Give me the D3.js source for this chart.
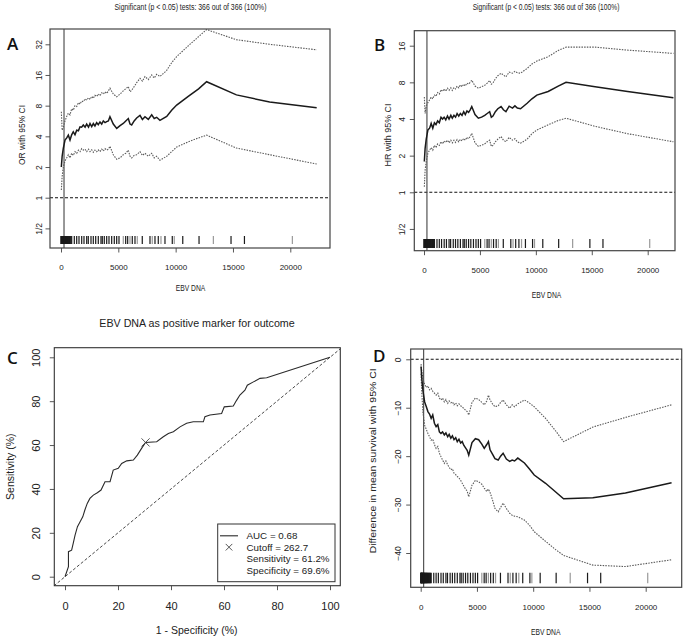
<!DOCTYPE html>
<html><head><meta charset="utf-8">
<script src="https://cdn.jsdelivr.net/npm/d3@7"></script>
<style>body{margin:0;background:#fff}svg{display:block}</style>
</head><body><svg id="c" width="685" height="640"></svg>
<script>
// ---------- DATA ----------
const ebvCutoffs = [30, 100, 200, 350, 500, 640, 785, 930, 1070, 1220,
 1370, 1520, 1660, 1800, 1945, 2100, 2240, 2400, 2530, 2680,
 2820, 2960, 3110, 3250, 3400, 3550, 3690, 3840, 3985, 4130,
 4270, 4560, 4860, 5150, 5430, 5650, 5870, 6020, 6165, 6380,
 6600, 6890, 7100, 7325, 7615, 7910, 8130, 8345, 8630, 9220,
 9650, 10090, 11100, 12000, 12700, 15300, 18200, 22300];

const orEst = [2.00, 2.55, 3.05, 3.68, 3.86, 4.11, 3.68, 4.14, 4.44, 4.14,
 4.59, 4.53, 4.96, 4.92, 5.17, 4.92, 5.28, 4.92, 5.35, 4.99,
 5.35, 5.06, 5.46, 5.20, 5.54, 5.28, 5.66, 5.46, 5.58, 5.66,
 6.23, 5.28, 4.79, 5.10, 5.35, 5.66, 5.98, 5.28, 5.17, 5.66,
 6.06, 6.41, 5.86, 6.23, 5.86, 6.50, 5.98, 6.15, 5.74, 6.28,
 7.21, 8.11, 9.85, 11.71, 13.74, 10.20, 8.69, 7.62];
const orHigh = [6.96, 4.59, 4.92, 5.66, 6.28, 6.77, 6.50, 7.46, 7.21, 8.00,
 7.84, 8.57, 8.28, 8.88, 8.75, 9.32, 9.06, 9.58, 9.19, 9.85,
 9.45, 10.13, 9.85, 10.41, 9.99, 10.70, 10.41, 10.93, 10.56, 11.16,
 11.88, 10.41, 9.78, 10.41, 11.16, 11.71, 12.30, 10.93, 11.31, 12.30,
 13.45, 14.83, 13.93, 15.45, 14.42, 16.00, 14.93, 16.22, 15.45, 17.75,
 21.11, 24.25, 30.91, 38.05, 44.63, 35.51, 32.00, 28.25];
const orLow = [1.19, 1.62, 2.00, 2.30, 2.46, 2.64, 2.46, 2.73, 2.60, 2.83,
 2.73, 2.93, 2.83, 3.03, 2.93, 2.99, 2.83, 2.99, 2.83, 2.95,
 2.79, 2.93, 2.83, 2.95, 2.83, 2.99, 2.87, 3.03, 2.93, 2.99,
 3.20, 2.64, 2.38, 2.46, 2.64, 2.73, 2.93, 2.55, 2.46, 2.60,
 2.64, 2.83, 2.60, 2.73, 2.55, 2.73, 2.46, 2.55, 2.33, 2.55,
 2.83, 3.14, 3.53, 3.86, 4.11, 3.07, 2.64, 2.14];

const hrEst = [1.79, 2.30, 2.73, 3.25, 3.36, 3.68, 3.36, 3.73, 3.60, 3.86,
 3.73, 4.14, 4.00, 4.14, 3.94, 4.23, 4.00, 4.29, 4.06, 4.29,
 4.14, 4.44, 4.23, 4.44, 4.29, 4.59, 4.35, 4.66, 4.53, 4.76,
 5.06, 4.35, 4.06, 4.14, 4.29, 4.44, 4.59, 4.14, 4.23, 4.59,
 4.86, 5.06, 4.76, 4.59, 5.10, 4.92, 5.13, 4.92, 4.86, 5.39,
 5.86, 6.28, 6.73, 7.46, 8.00, 7.36, 6.73, 5.98];
const hrHigh = [6.06, 4.44, 5.10, 5.46, 5.74, 6.06, 5.86, 6.28, 6.15, 6.59,
 6.41, 6.96, 6.73, 7.06, 6.77, 7.16, 6.87, 7.21, 6.87, 7.26,
 7.06, 7.46, 7.21, 7.62, 7.36, 7.73, 7.46, 7.89, 7.73, 8.00,
 8.34, 7.46, 7.16, 7.36, 7.57, 7.89, 8.28, 7.73, 7.89, 8.57,
 9.06, 9.51, 9.19, 8.88, 9.71, 9.51, 9.85, 9.58, 9.51, 10.41,
 11.31, 11.96, 13.00, 14.62, 15.56, 15.56, 14.72, 13.83];
const hrLow = [1.11, 1.52, 1.80, 2.09, 2.22, 2.33, 2.22, 2.43, 2.33, 2.50,
 2.43, 2.60, 2.50, 2.64, 2.57, 2.68, 2.55, 2.68, 2.55, 2.68,
 2.57, 2.71, 2.60, 2.73, 2.64, 2.77, 2.68, 2.83, 2.75, 2.87,
 3.05, 2.55, 2.38, 2.43, 2.50, 2.60, 2.68, 2.38, 2.43, 2.60,
 2.73, 2.87, 2.68, 2.60, 2.83, 2.68, 2.75, 2.60, 2.53, 2.73,
 3.03, 3.25, 3.58, 3.89, 4.06, 3.48, 3.03, 2.60];

const survDiffEst = [-1.5, -4.0, -6.5, -8.8, -9.8, -10.8, -11.3, -12.2, -11.5, -13.2,
 -13.9, -13.5, -15.0, -15.3, -15.0, -15.6, -15.2, -16.0, -15.5, -16.3,
 -15.8, -16.6, -16.2, -17.0, -16.5, -17.3, -17.0, -17.8, -18.3, -18.8,
 -19.8, -17.2, -16.4, -16.6, -17.5, -18.4, -17.6, -17.0, -18.7, -19.6,
 -20.5, -20.8, -20.0, -19.4, -20.6, -21.1, -20.8, -21.0, -20.4, -21.4,
 -22.6, -23.9, -25.6, -27.4, -28.8, -28.6, -27.6, -25.5];
const survDiffHigh = [-1.0, -2.5, -4.0, -5.2, -5.8, -5.5, -6.3, -6.0, -6.6, -7.0,
 -7.4, -7.0, -8.0, -8.4, -8.0, -8.8, -8.3, -9.1, -8.6, -9.0,
 -8.8, -9.4, -9.0, -9.6, -9.2, -9.6, -9.8, -10.2, -10.5, -10.8,
 -11.5, -8.9, -8.0, -8.3, -8.9, -9.4, -8.6, -7.4, -8.4, -9.2,
 -9.8, -9.6, -8.9, -8.4, -9.4, -10.1, -9.4, -9.8, -9.2, -8.4,
 -9.0, -9.8, -12.2, -14.8, -17.0, -14.0, -12.0, -9.4];
const survDiffLow = [-3.0, -7.0, -11.0, -13.6, -14.5, -15.3, -16.0, -16.7, -16.5, -17.6,
 -18.4, -18.0, -19.4, -20.1, -20.8, -21.5, -21.0, -21.8, -22.3, -22.8,
 -22.6, -23.5, -23.8, -24.2, -24.5, -25.0, -25.6, -26.2, -26.8, -27.2,
 -28.4, -26.0, -25.0, -25.3, -25.8, -26.6, -27.3, -26.8, -27.5, -29.0,
 -30.8, -31.5, -30.6, -29.7, -30.8, -31.8, -32.2, -32.4, -32.5, -33.2,
 -34.2, -35.6, -37.6, -39.3, -40.5, -42.5, -42.8, -41.4];

const rugValues = [5, 20, 35, 50, 70, 90, 110, 130, 150, 175, 200, 225, 250, 280, 310, 340,
 370, 400, 440, 480, 520, 560, 600, 650, 700, 750, 800, 860, 933, 1160, 1369, 1570, 1805,
 2006, 2241, 2381, 2616, 2817, 3026, 3253, 3488, 3601, 3776, 3985, 4186, 4421, 4648, 4857,
 5058, 5433, 5642, 5816, 6017, 6217, 6453, 6653, 7089, 7761, 7961, 8197, 8485, 8720, 9069,
 9706, 9880, 10620, 12040, 13290, 14830, 16000, 20180];

const cutoffValue = 262.7;

const rocFpr = [0, 1.3, 1.3, 2.5, 3.1, 3.8, 4.7, 5.7, 6.7, 7.5, 8.4, 9.4, 10.7, 12.2, 13.6,
 15.1, 17.0, 18.2, 20.1, 21.4, 23.3, 25.8, 27.3, 28.9, 30.4, 34.6, 37.1, 39.0, 40.9, 43.4,
 45.9, 48.4, 52.2, 52.8, 54.7, 59.1, 60.1, 63.5, 64.8, 66.0, 67.9, 68.8, 71.1, 73.6, 76.1, 100];
const rocTpr = [0, 4.6, 11.4, 12.1, 15.2, 19.0, 22.8, 25.0, 27.3, 30.4, 33.4, 35.7, 37.2, 38.3, 39.5,
 43.3, 43.3, 48.6, 49.4, 51.6, 52.8, 53.2, 55.4, 58.5, 61.2, 61.5, 63.8, 65.3, 66.1, 68.3,
 69.9, 70.6, 70.6, 72.9, 73.7, 74.4, 77.4, 77.8, 80.5, 82.8, 85.0, 87.3, 88.8, 90.4, 90.7, 100];
const rocCutFpr = 30.4, rocCutTpr = 61.2;
const rocLegend = ["AUC = 0.68", "Cutoff = 262.7", "Sensitivity = 61.2%", "Specificity = 69.6%"];

const ebvTicks = [0, 5000, 10000, 15000, 20000];
const orTicks = [0.5, 1, 2, 4, 8, 16, 32], orTickLabels = ["1/2", "1", "2", "4", "8", "16", "32"];
const hrTicks = [0.5, 1, 2, 4, 8, 16], hrTickLabels = ["1/2", "1", "2", "4", "8", "16"];
const survTicks = [0, -10, -20, -30, -40];
const pctTicks = [0, 20, 40, 60, 80, 100];
const sigTitle = "Significant (p < 0.05) tests: 366 out of 366 (100%)";

// ---------- DRAWING ----------
const svg = d3.select("#c");
const NARROW = "'Liberation Sans Narrow','Arial Narrow',sans-serif";
const SANS = "'Liberation Sans',Arial,Helvetica,sans-serif";

function txt(g, x, y, s, o = {}) {
  const t = g.append("text").attr("x", x).attr("y", y)
    .attr("text-anchor", o.anchor || "middle").attr("dy", o.dy || "0.35em")
    .style("font-family", o.font || SANS).style("font-size", (o.size || 10) + "px")
    .style("font-weight", o.weight || "normal")
    .attr("fill", o.fill || "#222").text(s);
  if (o.rot) t.attr("transform", `rotate(-90,${x},${y})`);
  if (o.len) t.attr("textLength", o.len).attr("lengthAdjust", "spacingAndGlyphs");
  return t;
}

let clipN = 0;
function frame(g, b) {
  const id = "clip" + (clipN++);
  svg.append("clipPath").attr("id", id).append("rect")
    .attr("x", b[0]).attr("y", b[2]).attr("width", b[1] - b[0]).attr("height", b[3] - b[2]);
  return id;
}

function bottomAxis(g, x, b, ticks, centerY, fs, font) {
  const ts = 4.5;
  const pad = (centerY - b[3]) - 0.35 * fs - ts;
  const ax = g.append("g").attr("transform", `translate(0,${b[3]})`)
    .call(d3.axisBottom(x).tickValues(ticks).tickSize(ts).tickPadding(pad).tickFormat(d3.format("d")));
  ax.select(".domain").remove();
  ax.selectAll("line").attr("stroke", "#444").attr("stroke-width", 0.9);
  ax.selectAll("text").style("font-family", font).style("font-size", fs + "px").attr("fill", "#222");
}
function leftAxis(g, y, b, ticks, labels, centerX, fs, font) {
  const ts = 4.5;
  const k = b[0] - centerX;
  const ax = g.append("g").attr("transform", `translate(${b[0]},0)`)
    .call(d3.axisLeft(y).tickValues(ticks).tickSize(ts).tickPadding(k - ts)
      .tickFormat((d, i) => labels ? labels[i] : d3.format("d")(d)));
  ax.select(".domain").remove();
  ax.selectAll("line").attr("stroke", "#444").attr("stroke-width", 0.9);
  ax.selectAll("text").style("font-family", font).style("font-size", fs + "px").attr("fill", "#222")
    .attr("text-anchor", "middle").attr("dy", "0.35em")
    .attr("transform", `rotate(-90,${-k},0)`);
}

function curvePanel(p) {
  const g = svg.append("g");
  const b = p.box;
  const x = d3.scaleLinear().domain([0, 20000]).range(p.xr);
  const y = p.log ? d3.scaleLog().base(2).domain(p.yd).range(p.yr)
                  : d3.scaleLinear().domain(p.yd).range(p.yr);
  const cid = frame(g, b);
  const inner = g.append("g").attr("clip-path", `url(#${cid})`);
  // reference line
  inner.append("line").attr("x1", b[0]).attr("x2", b[1]).attr("y1", y(p.ref)).attr("y2", y(p.ref))
    .attr("stroke", "#111").attr("stroke-width", 1.1).attr("stroke-dasharray", "3,2");
  // cutoff line
  inner.append("line").attr("x1", x(cutoffValue)).attr("x2", x(cutoffValue)).attr("y1", b[2]).attr("y2", b[3])
    .attr("stroke", "#444").attr("stroke-width", 1.1);
  // rug
  inner.selectAll(".rug").data(rugValues).join("line").attr("class", "rug")
    .attr("x1", d => x(d)).attr("x2", d => x(d)).attr("y1", p.rug[0]).attr("y2", p.rug[1])
    .attr("stroke", (d, i) => (d > 4900 && i % 3 === 1) ? "#999" : "#1a1a1a").attr("stroke-width", 1.2);
  const line = d3.line().x((d, i) => x(ebvCutoffs[i])).y(d => y(d));
  [p.low, p.high].forEach(arr => inner.append("path").attr("d", line(arr)).attr("fill", "none")
    .attr("stroke", "#5a5a5a").attr("stroke-width", 1.1).attr("stroke-dasharray", "1.5,1.2"));
  inner.append("path").attr("d", line(p.est)).attr("fill", "none")
    .attr("stroke", "#1a1a1a").attr("stroke-width", 1.5);
  // box
  g.append("rect").attr("x", b[0]).attr("y", b[2]).attr("width", b[1] - b[0]).attr("height", b[3] - b[2])
    .attr("fill", "none").attr("stroke", "#444").attr("stroke-width", 1.2);
  bottomAxis(g, x, b, ebvTicks, p.xLabY, 8, NARROW);
  leftAxis(g, y, b, p.yTicks, p.yLabels, p.yLabX, 8.5, SANS);
  txt(g, p.xTitle[0], p.xTitle[1], "EBV DNA", { font: NARROW, size: 8.5, len: 29.5 });
  txt(g, p.yTitle[0], p.yTitle[1], p.yTitleText, { font: SANS, size: 8.5, rot: true, len: p.yTitle[2] });
  if (p.main) txt(g, p.main[0], p.main[1], sigTitle, { font: NARROW, size: 8.4, len: p.main[2] });
  txt(g, p.letter[0], p.letter[1], p.letter[2], { anchor: "start", size: 17, weight: 600, font: "'Open Sans'," + SANS, fill: "#111" });
}

curvePanel({
  box: [50, 330, 29, 248], xr: [61, 290.3], log: true, yd: [1, 32], yr: [197.7, 44.3],
  ref: 1, rug: [236, 244], est: orEst, low: orLow, high: orHigh,
  yTicks: orTicks, yLabels: orTickLabels, xLabY: 267.5, yLabX: 39,
  xTitle: [190.5, 288], yTitle: [21.7, 135, 60], yTitleText: "OR with 95% CI",
  main: [190.5, 6.7, 152], letter: [7, 44, "A"]
});
curvePanel({
  box: [414.3, 675, 30.7, 250.7], xr: [424, 647.7], log: true, yd: [1, 16], yr: [192.3, 45.7],
  ref: 1, rug: [239, 248], est: hrEst, low: hrLow, high: hrHigh,
  yTicks: hrTicks, yLabels: hrTickLabels, xLabY: 270, yLabX: 402.3,
  xTitle: [546.5, 295], yTitle: [388.3, 135, 63], yTitleText: "HR with 95% CI",
  main: [546, 6.7, 146.7], letter: [374, 45, "B"]
});
curvePanel({
  box: [410.7, 681.7, 349, 587.3], xr: [420.7, 645.7], log: false, yd: [0, -40], yr: [359.3, 553],
  ref: 0, rug: [572.7, 583.3], est: survDiffEst, low: survDiffLow, high: survDiffHigh,
  yTicks: survTicks, yLabels: null, xLabY: 606.7, yLabX: 398.3,
  xTitle: [545.7, 632.3], yTitle: [373.3, 460.8, 185], yTitleText: "Difference in mean survival with 95% CI",
  main: null, letter: [373, 356, "D"]
});

// ---------- Panel C : ROC ----------
(function () {
  const g = svg.append("g");
  const b = [54.3, 340.3, 347.7, 585.7];
  const x = d3.scaleLinear().domain([0, 100]).range([65, 330]);
  const y = d3.scaleLinear().domain([0, 100]).range([576.7, 357.3]);
  const cid = frame(g, b);
  const inner = g.append("g").attr("clip-path", `url(#${cid})`);
  inner.append("line").attr("x1", x(-10)).attr("y1", y(-10)).attr("x2", x(110)).attr("y2", y(110))
    .attr("stroke", "#333").attr("stroke-width", 0.9).attr("stroke-dasharray", "3,2");
  const line = d3.line().x((d, i) => x(rocFpr[i])).y(d => y(d));
  inner.append("path").attr("d", line(rocTpr)).attr("fill", "none").attr("stroke", "#2a2a2a").attr("stroke-width", 1.1);
  inner.append("path").attr("d", d3.symbol().type(d3.symbolX).size(45)())
    .attr("transform", `translate(${x(rocCutFpr)},${y(rocCutTpr)})`)
    .attr("fill", "none").attr("stroke", "#444").attr("stroke-width", 0.9);
  g.append("rect").attr("x", b[0]).attr("y", b[2]).attr("width", b[1] - b[0]).attr("height", b[3] - b[2])
    .attr("fill", "none").attr("stroke", "#333").attr("stroke-width", 1.1);
  bottomAxis(g, x, b, pctTicks, 606, 11, SANS);
  leftAxis(g, y, b, pctTicks, null, 36, 11, SANS);
  txt(g, 197, 323, "EBV DNA as positive marker for outcome", { size: 10.7 });
  txt(g, 196.7, 630, "1 - Specificity (%)", { size: 10.5 });
  txt(g, 10, 466.7, "Sensitivity (%)", { size: 10.5, rot: true });
  txt(g, 7, 358, "C", { anchor: "start", size: 17, weight: 600, font: "'Open Sans'," + SANS, fill: "#111" });
  // legend
  const lg = g.append("g");
  lg.append("rect").attr("x", 217.7).attr("y", 524).attr("width", 117.3).attr("height", 57.7)
    .attr("fill", "#fff").attr("stroke", "#333").attr("stroke-width", 1);
  const rows = [535.8, 547.2, 558.7, 570.2];
  lg.append("line").attr("x1", 220).attr("x2", 238).attr("y1", rows[0]).attr("y2", rows[0])
    .attr("stroke", "#2a2a2a").attr("stroke-width", 1.1);
  lg.append("path").attr("d", d3.symbol().type(d3.symbolX).size(30)())
    .attr("transform", `translate(229,${rows[1]})`).attr("fill", "none").attr("stroke", "#444").attr("stroke-width", 0.9);
  rocLegend.forEach((s, i) => txt(lg, 246.5, rows[i], s, { anchor: "start", size: 9.8 }));
})();
</script></body></html>
